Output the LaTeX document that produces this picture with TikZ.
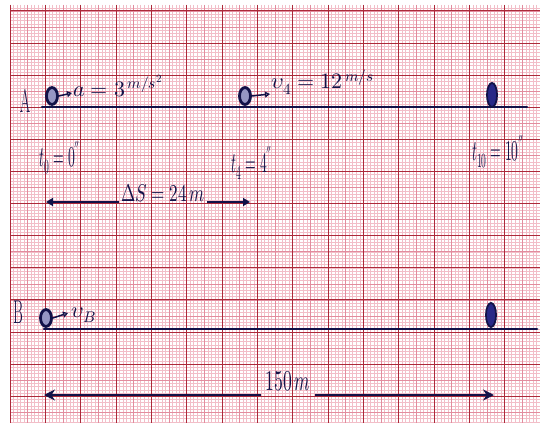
\documentclass[tikz,border=0pt]{standalone}
\usepackage{graphicx}
\usepackage{unicode-math}
\usetikzlibrary{arrows.meta,shapes.geometric}
\definecolor{ink}{RGB}{18,18,72}
\definecolor{gmin}{RGB}{242,190,200}
\definecolor{gmid}{RGB}{226,140,158}
\definecolor{gmaj}{RGB}{172,42,58}
\tikzset{
  hw/.style={text=ink, font=\fontsize{22}{26}\selectfont, inner sep=1pt},
  ring/.style={ellipse, draw=ink, line width=2.8pt, fill={rgb,255:red,150;green,150;blue,195}, minimum width=11pt, minimum height=17pt, inner sep=0pt},
  bead/.style={ellipse, draw=ink, line width=1.8pt, fill={rgb,255:red,40;green,40;blue,135}, minimum width=10pt, minimum height=24pt, inner sep=0pt},
  track/.style={draw=ink, line width=2.8pt, line cap=round},
  vec/.style={draw=ink, line width=1.5pt, -{Triangle[open,length=5pt,width=6pt]}},
  dimA/.style={draw=ink, line width=1.7pt, -{Triangle[length=7pt,width=8pt]}},
  dimB/.style={draw=ink, line width=2pt, -{Stealth[length=11pt,width=11pt]}}
}
\begin{document}
\begin{tikzpicture}[x=1pt,y=-1pt]
\useasboundingbox (0,0) rectangle (540,425);
\fill[white] (0,0) rectangle (540,425);
% graph paper
\foreach \i in {0,...,150}{\draw[gmin,line width=0.5pt] ({10+\i*3.5333},5) -- ({10+\i*3.5333},423);}
\foreach \j in {-1,...,128}{\draw[gmin,line width=0.5pt] (10,{11+\j*3.21}) -- (540,{11+\j*3.21});}
\foreach \i in {0,...,30}{\draw[gmid,line width=0.7pt] ({10+\i*17.667},5) -- ({10+\i*17.667},423);}
\foreach \j in {0,...,25}{\draw[gmid,line width=0.7pt] (10,{11+\j*16.05}) -- (540,{11+\j*16.05});}
\foreach \i in {0,...,15}{\draw[gmaj,line width=1pt] ({10+\i*35.333},5) -- ({10+\i*35.333},423);}
\foreach \j in {0,...,12}{\draw[gmaj,line width=1pt] (10,{11+\j*32.1}) -- (540,{11+\j*32.1});}

% track A
\coordinate (As) at (42,107);
\coordinate (Ae) at (527,107);
\draw[track] (As) -- (Ae);
\node[hw] (A) at (25,101) {\fontsize{30}{32}\selectfont\scalebox{0.5}[1.1]{A}};
\node[ring] (d0) at (52,96) {};
\node[ring] (d4) at (245,96) {};
\node[bead] (d10) at (492,95) {};
\coordinate (a0) at (72,93);
\coordinate (a4) at (270,94);
\draw[vec] (d0.east) -- (a0);
\draw[vec] (d4.east) -- (a4);
\node[hw, anchor=base west] (acc) at (72,96) {$a=3^{\,m/s^{2}}$};
\node[hw, anchor=base west] (v4) at (270,89) {$\upsilon_{4}=12^{\,m/s}$};
\node[hw] (t0) at (60,158) {\scalebox{0.62}[1.3]{$t_{0}=0''$}};
\node[hw] (t4) at (252,163) {\scalebox{0.62}[1.3]{$t_{4}=4''$}};
\node[hw] (t10) at (498,152) {\scalebox{0.62}[1.3]{$t_{10}=10''$}};
% Delta S
\coordinate (dsL) at (46,202);
\coordinate (dsR) at (250,202);
\node[hw, anchor=base west, inner sep=2pt] (ds) at (119,201) {\scalebox{0.78}[1.1]{$\Delta S=24\,m$}};
\draw[dimA] (ds.base west |- dsL) -- (dsL);
\draw[dimA] (ds.base east |- dsR) -- (dsR);

% track B
\coordinate (Bs) at (44,329);
\coordinate (Be) at (537,329);
\draw[track] (Bs) -- (Be);
\node[hw] (B) at (18,312) {\fontsize{30}{32}\selectfont\scalebox{0.5}[1.1]{B}};
\node[ring] (b0) at (46,318) {};
\node[bead] (b1) at (491,315) {};
\coordinate (ab) at (68,313);
\draw[vec] (b0.east) -- (ab);
\node[hw, anchor=base west] (vb) at (70,317) {$\upsilon_{B}$};
% 150 m
\coordinate (lL) at (44,395);
\coordinate (lR) at (494,395);
\node[hw, inner sep=4pt] (len) at (288,381) {\scalebox{0.8}[1.3]{$150\,m$}};
\draw[dimB] (len.west |- lL) -- (lL);
\draw[dimB] (len.east |- lR) -- (lR);
\end{tikzpicture}
\end{document}
